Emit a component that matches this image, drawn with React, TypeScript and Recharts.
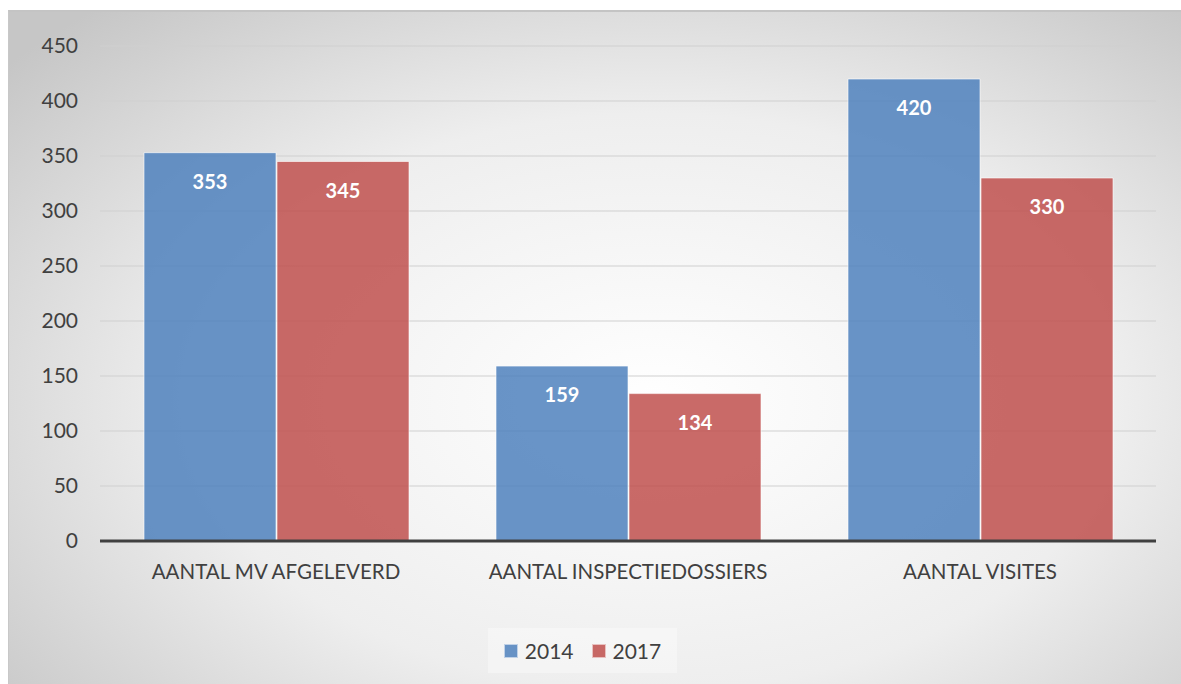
import React, { useEffect } from "react";
import {
  BarChart, Bar, XAxis, YAxis, CartesianGrid, Legend, LabelList,
} from "recharts";

// ── Data ───────────────────────────────────────────────────────────────────────
const categories = ["AANTAL MV AFGELEVERD", "AANTAL INSPECTIEDOSSIERS", "AANTAL VISITES"];
const values2014 = [353, 159, 420];
const values2017 = [345, 134, 330];
const yTicks = [0, 50, 100, 150, 200, 250, 300, 350, 400, 450];

const data = categories.map((name, i) => ({
  name,
  y2014: values2014[i],
  y2017: values2017[i],
}));

// ── Styles ─────────────────────────────────────────────────────────────────────
const FONT = "Lato, 'Open Sans', sans-serif";
const TEXT = "#404040";
const BLUE = "#4f81bd";
const RED = "#c0504d";

const FRAME: React.CSSProperties = {
  position: "absolute",
  left: 8,
  top: 10,
  width: 1173,
  height: 674,
  boxSizing: "border-box",
  borderTop: "2px solid #c4c4c4",
  borderLeft: "1px solid #c8c8c8",
  background: "radial-gradient(ellipse 72% 78% at 55% 58%, #ffffff 0%, #eeeeee 55%, #c6c6c6 100%)",
  fontFamily: FONT,
};

function LegendBox() {
  const items = [
    { label: "2014", color: BLUE },
    { label: "2017", color: RED },
  ];
  return (
    <div style={{ display: "flex", justifyContent: "center" }}>
      <div style={{
        display: "flex", alignItems: "center", gap: 18,
        background: "rgba(255,255,255,0.35)", padding: "10px 16px",
      }}>
        {items.map((it) => (
          <div key={it.label} style={{ display: "flex", alignItems: "center", gap: 7 }}>
            <span style={{
              width: 12, height: 12, background: it.color, opacity: 0.85,
              border: "1px solid rgba(255,255,255,0.6)", display: "inline-block",
            }} />
            <span style={{ fontSize: 21, color: TEXT, fontFamily: FONT }}>{it.label}</span>
          </div>
        ))}
      </div>
    </div>
  );
}

export default function App() {
  // no scrollbars, the frame runs to the right edge of the window
  useEffect(() => {
    document.documentElement.style.overflow = "hidden";
  }, []);

  return (
    <div style={FRAME}>
      <BarChart
        width={1171}
        height={672}
        data={data}
        margin={{ top: 34, right: 24, left: 0, bottom: 68 }}
        barCategoryGap="12.5%"
        barGap={1}
      >
        <CartesianGrid vertical={false} stroke="#d0d0d0" strokeWidth={1.2} />
        <XAxis
          dataKey="name"
          tickLine={false}
          axisLine={{ stroke: "#404040", strokeWidth: 3 }}
          tick={{ fontSize: 20.5, fill: TEXT, fontFamily: FONT }}
          tickMargin={17}
        />
        <YAxis
          domain={[0, 450]}
          ticks={yTicks}
          width={91}
          tickLine={false}
          axisLine={false}
          tickSize={0}
          tickMargin={22}
          tick={{ fontSize: 21, fill: TEXT, fontFamily: FONT }}
        />
        <Legend
          verticalAlign="bottom"
          align="center"
          wrapperStyle={{ bottom: 11 }}
          content={() => <LegendBox />}
        />
        <Bar dataKey="y2014" fill={BLUE} fillOpacity={0.85} stroke="#ffffff" strokeOpacity={0.6} strokeWidth={1} isAnimationActive={false}>
          <LabelList dataKey="y2014" position="insideTop" offset={22} fill="#ffffff" fontSize={20} fontWeight="bold" fontFamily={FONT} />
        </Bar>
        <Bar dataKey="y2017" fill={RED} fillOpacity={0.85} stroke="#ffffff" strokeOpacity={0.6} strokeWidth={1} isAnimationActive={false}>
          <LabelList dataKey="y2017" position="insideTop" offset={22} fill="#ffffff" fontSize={20} fontWeight="bold" fontFamily={FONT} />
        </Bar>
      </BarChart>
    </div>
  );
}
